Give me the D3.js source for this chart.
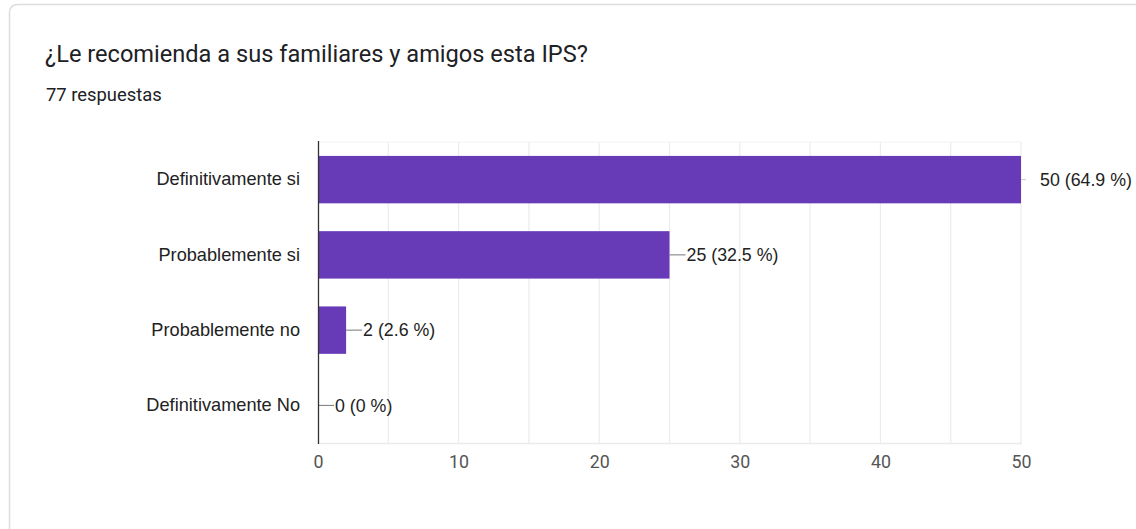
<!DOCTYPE html>
<html><head><meta charset="utf-8">
<script src="https://cdn.jsdelivr.net/npm/d3@7"></script>
<style>
html,body{margin:0;padding:0;background:#fff;}
svg{display:block;font-family:Roboto, Arial, sans-serif;}
</style></head>
<body>
<svg id="chart" width="1136" height="529"></svg>
<script>
const title = "¿Le recomienda a sus familiares y amigos esta IPS?";
const subtitle = "77 respuestas";
const categories = ["Definitivamente si","Probablemente si","Probablemente no","Definitivamente No"];
const values = [50, 25, 2, 0];
const percents = ["64.9 %","32.5 %","2.6 %","0 %"];
const xTicks = [0,10,20,30,40,50];

const svg = d3.select("#chart");
const arial = "'Liberation Sans', Arial, sans-serif";
// card
svg.append("path")
  .attr("d", "M9.5,529 L9.5,13 Q9.5,4.5 18,4.5 L1136,4.5")
  .attr("fill","#fff").attr("stroke","#dadce0").attr("stroke-width",1.5);

svg.append("text").attr("x",45).attr("y",62).attr("font-size",23.6)
  .attr("fill","#202124").text(title);
svg.append("text").attr("x",46).attr("y",101).attr("font-size",18.4)
  .attr("fill","#202124").text(subtitle);

const pL=318, pR=1021, pT=142, pB=443;
const x = d3.scaleLinear().domain([0,50]).range([pL,pR]);
const y = d3.scaleBand().domain(categories).range([pT,pB]).paddingInner(0.37).paddingOuter(0.185);

const g = svg.append("g");
// minor gridlines every 5
g.selectAll("line.grid").data(d3.range(5,55,5)).enter().append("line")
  .attr("x1",d=>x(d)).attr("x2",d=>x(d)).attr("y1",pT).attr("y2",pB)
  .attr("stroke","#ececec").attr("stroke-width",1.2);
g.append("line").attr("x1",pL).attr("x2",pR).attr("y1",pT).attr("y2",pT).attr("stroke","#f3f3f3");
g.append("line").attr("x1",pL).attr("x2",pR+1).attr("y1",pB+0.5).attr("y2",pB+0.5).attr("stroke","#ebebeb").attr("stroke-width",1.5);

// bars
g.selectAll("rect.bar").data(values).enter().append("rect")
  .attr("x",x(0)).attr("y",(d,i)=>y(categories[i]))
  .attr("width",d=>x(d)-x(0)).attr("height",y.bandwidth())
  .attr("fill","#673ab7");

// connector lines + labels
values.forEach((v,i)=>{
  const cy = y(categories[i]) + y.bandwidth()/2;
  const x0 = x(v);
  const isMax = v===d3.max(values);
  const lx = isMax ? x0+19 : x0+17;
  g.append("line").attr("x1",x0).attr("x2",isMax? x0+5 : lx-1).attr("y1",cy).attr("y2",cy)
    .attr("stroke", isMax ? "#c8c8c8" : "#777").attr("stroke-width",1);
  g.append("text").attr("x",lx).attr("y",cy).attr("dy","0.35em").attr("font-size",17.8)
    .attr("font-family",arial).attr("fill","#222").text(`${v} (${percents[i]})`);
});

// y axis line
g.append("line").attr("x1",pL+0.5).attr("x2",pL+0.5).attr("y1",pT-1).attr("y2",pB+1)
  .attr("stroke","#333").attr("stroke-width",1.3);

// category labels
const yAxis = d3.axisLeft(y).tickSize(0).tickPadding(18);
const ya = svg.append("g").attr("transform",`translate(${pL},0)`).call(yAxis);
ya.select(".domain").remove();
ya.selectAll("text").attr("font-size",18.2).attr("fill","#222").attr("font-family",arial);

// x axis labels
const xAxis = d3.axisBottom(x).tickValues(xTicks).tickSize(0).tickPadding(12);
const xa = svg.append("g").attr("transform",`translate(0,${pB})`).call(xAxis);
xa.select(".domain").remove();
xa.selectAll("text").attr("font-size",17.8).attr("fill","#555").attr("font-family","Roboto, Arial, sans-serif");
</script>
</body></html>
